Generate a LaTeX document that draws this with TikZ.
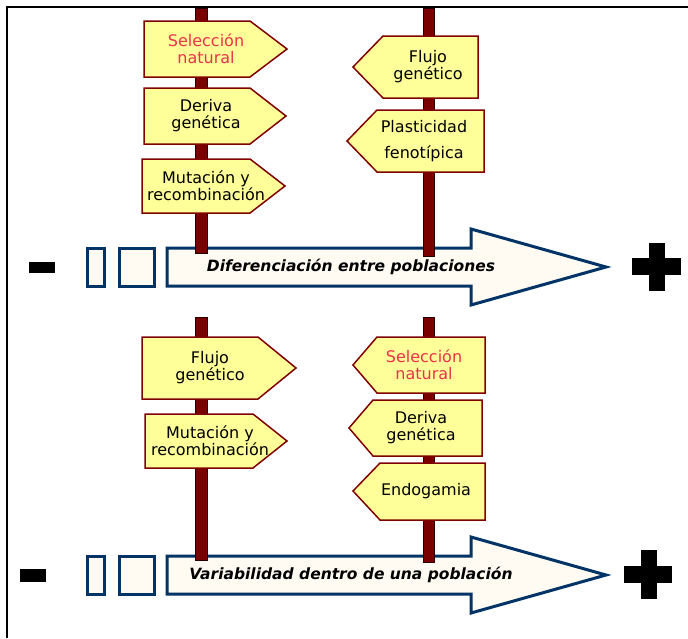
\documentclass[tikz,border=0pt]{standalone}
\usepackage{fontspec}
\setmainfont{DejaVu Sans}
\usetikzlibrary{positioning}

\definecolor{signfill}{RGB}{255,255,153}
\definecolor{signdraw}{RGB}{128,0,0}
\definecolor{polefill}{RGB}{122,0,0}
\definecolor{navyline}{RGB}{0,51,102}
\definecolor{creamfill}{RGB}{255,250,242}
\definecolor{redtext}{RGB}{235,50,75}

\begin{document}
\begin{tikzpicture}[x=1pt, y=-1pt,
  sign/.style={draw=signdraw, fill=signfill, line width=1.5pt, line join=miter},
  signtext/.style={align=center, inner sep=0pt, font=\fontsize{16}{17}\selectfont},
  pole/.style={fill=polefill, draw=black!70!polefill, line width=0.6pt},
  bigarrow/.style={draw=navyline, fill=creamfill, line width=3pt, line join=miter},
  arrowtext/.style={inner sep=0pt, font=\fontsize{15.5}{17}\selectfont\bfseries\itshape},
  sgn/.style={fill=black}]
  \useasboundingbox (0,0) rectangle (688,638);

  % frame
  \draw[line width=2pt] (7,638) -- (7,7) -- (688,7);

  % upper scale
  \fill[sgn] (29,262) rectangle (55,273);
  \draw[bigarrow] (87,248) rectangle (104,286);
  \draw[bigarrow] (119,248) rectangle (154,286);
  \draw[bigarrow] (167,248) -- (471,248) -- (471,229) -- (606,267) -- (471,305) -- (471,286) -- (167,286) -- cycle;
  \fill[sgn] (649,243) rectangle (665,291);
  \fill[sgn] (632,258) rectangle (681,275);

  % lower scale
  \fill[sgn] (20,569) rectangle (46,582);
  \draw[bigarrow] (87,556) rectangle (104,594);
  \draw[bigarrow] (119,556) rectangle (154,594);
  \draw[bigarrow] (167,556) -- (471,556) -- (471,537) -- (606,575) -- (471,613) -- (471,594) -- (167,594) -- cycle;
  \fill[sgn] (641,550) rectangle (657,599);
  \fill[sgn] (624,566) rectangle (672,583);

  % poles
  \draw[pole] (195,8) rectangle (207,253);
  \draw[pole] (423,8) rectangle (434,256);
  \draw[pole] (195,317) rectangle (207,560);
  \draw[pole] (423,317) rectangle (434,562);

  % upper signs
  \draw[sign] (144,21) -- (250,21) -- (287,49) -- (250,77) -- (144,77) -- cycle;
  \draw[sign] (144,88) -- (250,88) -- (286,116) -- (250,144) -- (144,144) -- cycle;
  \draw[sign] (142,159) -- (250,159) -- (285,186) -- (250,213) -- (142,213) -- cycle;
  \draw[sign] (353,67) -- (383,36) -- (478,36) -- (478,98) -- (383,98) -- cycle;
  \draw[sign] (347,141) -- (377,110) -- (484,110) -- (484,172) -- (377,172) -- cycle;

  \node[signtext, text=redtext] (sel1) at (206,49) {Selección\\natural};
  \node[signtext] (der1) at (206,116) {Deriva\\genética};
  \node[signtext] (mut1) at (206,186) {Mutación y\\recombinación};
  \node[signtext] (flu1) at (428,67) {Flujo\\genético};
  \node[signtext, font=\fontsize{16}{26}\selectfont] (pla1) at (424,141) {Plasticidad\\fenotípica};

  % lower signs
  \draw[sign] (142,337) -- (258,337) -- (296,368) -- (258,399) -- (142,399) -- cycle;
  \draw[sign] (145,414) -- (253,414) -- (287,441) -- (253,468) -- (145,468) -- cycle;
  \draw[sign] (353,365) -- (377,337) -- (485,337) -- (485,393) -- (377,393) -- cycle;
  \draw[sign] (349,428) -- (373,400) -- (482,400) -- (482,456) -- (373,456) -- cycle;
  \draw[sign] (353,491) -- (380,463) -- (485,463) -- (485,520) -- (380,520) -- cycle;

  \node[signtext] (flu2) at (210,368) {Flujo\\genético};
  \node[signtext] (mut2) at (210,441) {Mutación y\\recombinación};
  \node[signtext, text=redtext] (sel2) at (424,365) {Selección\\natural};
  \node[signtext] (der2) at (421,428) {Deriva\\genética};
  \node[signtext] (endo2) at (426,491) {Endogamia};

  % scale labels
  \node[arrowtext] (difer) at (351,267) {Diferenciación entre poblaciones};
  \node[arrowtext] (varia) at (351,575) {Variabilidad dentro de una población};
\end{tikzpicture}
\end{document}
